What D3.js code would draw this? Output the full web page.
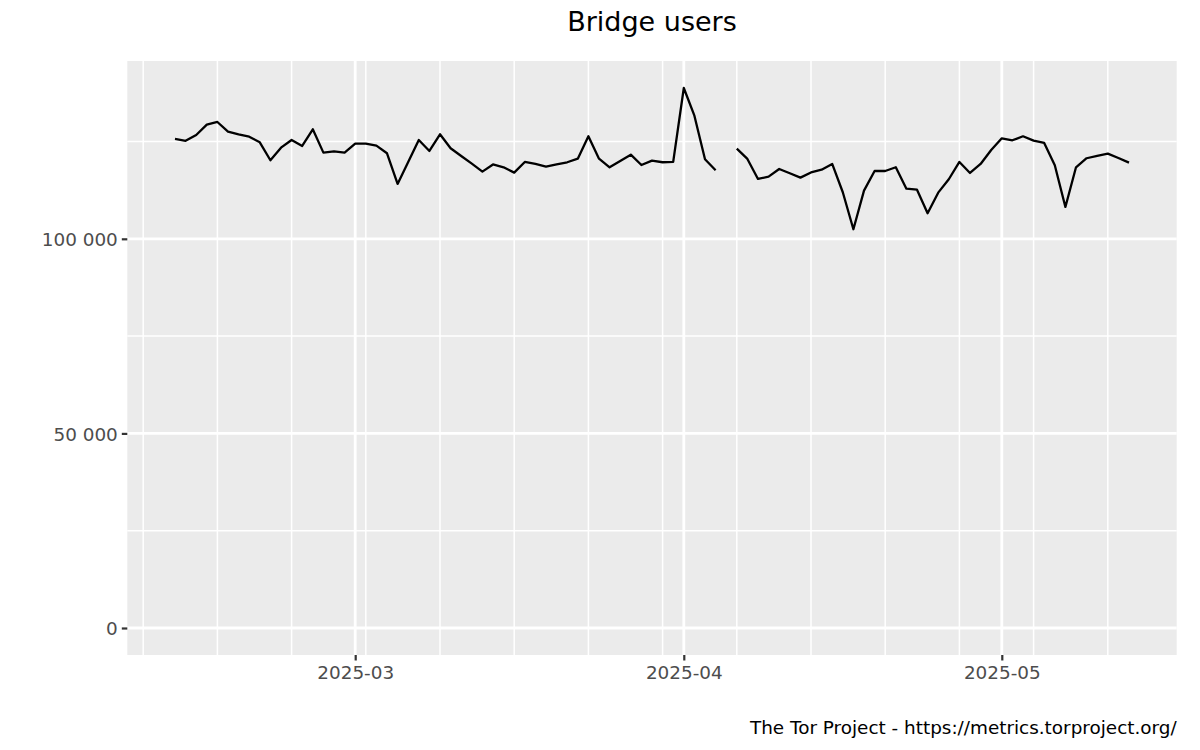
<!DOCTYPE html>
<html>
<head>
<meta charset="utf-8">
<script src="https://cdn.jsdelivr.net/npm/d3@7"></script>
<style>
  html, body { margin: 0; padding: 0; background: #fff; }
  svg { display: block; font-family: "DejaVu Sans", sans-serif; }
</style>
</head>
<body>
<svg id="chart" width="1200" height="750"></svg>
<script>
// ---- data ----
const title = "Bridge users";
const caption = "The Tor Project - https://metrics.torproject.org/";
const startDate = "2025-02-12";
const endDate = "2025-05-13";
const users = [
  125650, 125190, 126680, 129330, 130020, 127530, 126850, 126240, 124800, 120180,
  123420, 125400, 123850, 128140, 122140, 122490, 122140, 124450, 124450, 123930,
  121980, 114100, 119750, 125400, 122570, 126850, 123260, 121290, 119310, 117260,
  119100, 118380, 117000, 119750, 119230, 118540, 119150, 119670, 120600, 126340,
  120600, 118380, 120000, 121620, 118970, 120080, 119670, 119750, 138750, 131640,
  120440, 117610, null,   123170, 120520, 115380, 115980, 117950, 116840, 115720,
  117050, 117770, 119230, 111960, 102460, 112380, 117430, 117430, 118380, 112890,
  112630, 106570, 111860, 115300, 119750, 116920, 119230, 122830, 125830, 125320,
  126340, 125220, 124630, 118900, 108190, 118380, 120700, 121290, 121880, 120770,
  119570
];
const yTicks = [0, 50000, 100000];
const yMinorTicks = [25000, 75000, 125000];
const xTicks = ["2025-03-01", "2025-04-01", "2025-05-01"];
const xMinorStart = "2025-02-09";
const xMinorEnd = "2025-05-12";

// ---- layout ----
const W = 1200, H = 750;
const margin = { left: 127.3, right: 23.3, top: 61, bottom: 95 };
const pw = W - margin.left - margin.right;
const ph = H - margin.top - margin.bottom;

const parse = d3.utcParse("%Y-%m-%d");
const dates = d3.utcDay.range(parse(startDate), d3.utcDay.offset(parse(endDate), 1));
const data = dates.map((d, i) => ({ date: d, v: users[i] }));

const xExt = d3.extent(dates);
const xSpan = xExt[1] - xExt[0];
const x = d3.scaleUtc()
  .domain([new Date(+xExt[0] - 0.05 * xSpan), new Date(+xExt[1] + 0.05 * xSpan)])
  .range([0, pw]);

const yMax = d3.max(users.filter(v => v != null));
const y = d3.scaleLinear()
  .domain([-0.05 * yMax, yMax * 1.05])
  .range([ph, 0]);

const svg = d3.select("#chart");
const g = svg.append("g").attr("transform", `translate(${margin.left},${margin.top})`);

// panel background
g.append("rect").attr("width", pw).attr("height", ph).attr("fill", "#EBEBEB");

// minor grid
const xMinor = d3.utcDay.range(parse(xMinorStart), d3.utcDay.offset(parse(xMinorEnd), 1), 7);
g.append("g").selectAll("line").data(yMinorTicks).join("line")
  .attr("x1", 0).attr("x2", pw)
  .attr("y1", d => y(d)).attr("y2", d => y(d))
  .attr("stroke", "#fff").attr("stroke-width", 1.5);
g.append("g").selectAll("line").data(xMinor).join("line")
  .attr("y1", 0).attr("y2", ph)
  .attr("x1", d => x(d)).attr("x2", d => x(d))
  .attr("stroke", "#fff").attr("stroke-width", 1.5);

// major grid
g.append("g").selectAll("line").data(yTicks).join("line")
  .attr("x1", 0).attr("x2", pw)
  .attr("y1", d => y(d)).attr("y2", d => y(d))
  .attr("stroke", "#fff").attr("stroke-width", 2.8);
g.append("g").selectAll("line").data(xTicks.map(parse)).join("line")
  .attr("y1", 0).attr("y2", ph)
  .attr("x1", d => x(d)).attr("x2", d => x(d))
  .attr("stroke", "#fff").attr("stroke-width", 2.8);

// data line
const line = d3.line()
  .defined(d => d.v != null)
  .x(d => x(d.date))
  .y(d => y(d.v));
g.append("path").datum(data)
  .attr("d", line)
  .attr("fill", "none")
  .attr("stroke", "#000")
  .attr("stroke-width", 2.3)
  .attr("stroke-linejoin", "round")
  .attr("stroke-linecap", "butt");

// axes
const fmt = v => d3.format(",")(v).replace(/,/g, "\u2009").replace(/\u2009/g, " ");
const yAxis = d3.axisLeft(y).tickValues(yTicks).tickSize(5.5).tickPadding(4).tickFormat(fmt);
const yg = g.append("g").call(yAxis);
const xAxis = d3.axisBottom(x).tickValues(xTicks.map(parse)).tickSize(5.5).tickPadding(4)
  .tickFormat(d3.utcFormat("%Y-%m"));
const xg = g.append("g").attr("transform", `translate(0,${ph})`).call(xAxis);

[yg, xg].forEach(ax => {
  ax.select(".domain").remove();
  ax.selectAll(".tick line").attr("stroke", "#333333").attr("stroke-width", 2.2);
  ax.selectAll(".tick text")
    .attr("fill", "#4D4D4D")
    .style("font-family", "'DejaVu Sans', sans-serif")
    .style("font-size", "18.4px");
});
yg.selectAll(".tick text").attr("dy", "0.36em");
xg.selectAll(".tick text").attr("dy", "0").attr("y", 23.5);

// title
svg.append("text")
  .attr("x", margin.left + pw / 2).attr("y", 31)
  .attr("text-anchor", "middle")
  .style("font-size", "27px")
  .attr("fill", "#000")
  .text(title);

// caption
svg.append("text")
  .attr("x", margin.left + pw).attr("y", 733.5)
  .attr("text-anchor", "end")
  .style("font-size", "18.4px")
  .attr("fill", "#000")
  .text(caption);
</script>
</body>
</html>
